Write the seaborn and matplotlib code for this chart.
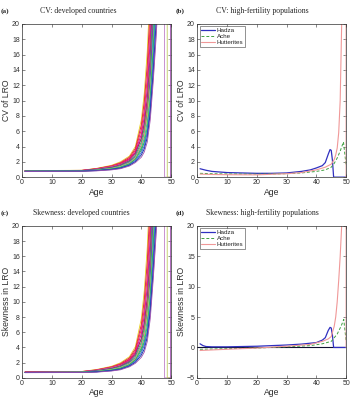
import seaborn as sns
import matplotlib.pyplot as plt
import numpy as np
import pandas as pd

# --- datos: países desarrollados (filas = país, columnas = edades) ---
ages_dev = [1, 20, 25, 30, 33, 36, 38, 40, 41, 42, 43, 44, 45, 46, 47, 47.8, 48.7, 49.8]
BIG = 999

cv_dev = [
    [0.85, 0.90, 1.15, 1.55, 2.00, 2.75, 4.00, 7.5, 11.0, 16.5, 25.0, 38.0, 55.0, 80, BIG, BIG, BIG, BIG],
    [0.84, 0.89, 1.12, 1.48, 1.89, 2.60, 3.74, 6.8, 9.9, 14.7, 22.4, 34.0, 50.0, 72, BIG, BIG, BIG, BIG],
    [0.83, 0.88, 1.08, 1.45, 1.85, 2.40, 3.20, 5.0, 6.9, 9.8, 14.5, 21.5, 31.0, 45, BIG, BIG, BIG, BIG],
    [0.83, 0.87, 1.08, 1.41, 1.79, 2.45, 3.50, 6.2, 8.8, 13.0, 20.1, 31.0, 45.0, 65, BIG, BIG, BIG, BIG],
    [0.82, 0.86, 1.05, 1.35, 1.70, 2.31, 3.27, 5.6, 7.9, 11.6, 18.0, 28.0, 41.0, 59, BIG, BIG, BIG, BIG],
    [0.80, 0.86, 1.05, 1.35, 1.65, 2.10, 2.60, 3.6, 4.5, 6.0, 8.6, 13.0, 19.0, 27, BIG, 0, 0, 0],
    [0.81, 0.85, 1.02, 1.29, 1.61, 2.18, 3.05, 5.1, 7.1, 10.3, 16.1, 25.3, 37.0, 53, BIG, BIG, BIG, BIG],
    [0.80, 0.84, 0.99, 1.24, 1.52, 2.06, 2.85, 4.6, 6.4, 9.2, 14.5, 22.9, 33.5, 48, BIG, BIG, BIG, BIG],
    [0.78, 0.80, 0.88, 1.05, 1.25, 1.70, 2.40, 3.9, 5.8, 8.8, 13.5, 20.5, 31.0, 45, BIG, BIG, BIG, BIG],
    [0.79, 0.83, 0.96, 1.18, 1.44, 1.94, 2.66, 4.2, 5.7, 8.2, 13.0, 20.7, 30.4, 43, BIG, BIG, BIG, BIG],
    [0.78, 0.81, 0.93, 1.13, 1.37, 1.83, 2.49, 3.8, 5.1, 7.3, 11.6, 18.7, 27.5, 39, BIG, BIG, BIG, BIG],
    [0.79, 0.82, 0.92, 1.15, 1.40, 1.85, 2.55, 4.1, 5.5, 7.8, 11.5, 17.0, 25.0, 36, BIG, BIG, 0, 0],
    [0.78, 0.80, 0.90, 1.08, 1.30, 1.73, 2.33, 3.5, 4.6, 6.5, 10.4, 16.9, 24.9, 35, BIG, BIG, BIG, BIG],
    [0.77, 0.79, 0.87, 1.04, 1.23, 1.63, 2.18, 3.2, 4.1, 5.8, 9.3, 15.3, 22.6, 32, BIG, BIG, BIG, BIG],
    [0.76, 0.78, 0.85, 0.99, 1.16, 1.54, 2.03, 2.9, 3.7, 5.2, 8.4, 13.8, 20.4, 29, BIG, BIG, BIG, BIG],
    [0.75, 0.77, 0.82, 0.95, 1.10, 1.45, 1.90, 2.6, 3.3, 4.6, 7.5, 12.5, 18.5, 26, BIG, BIG, BIG, 0],
]

skew_dev = [
    [0.78, 0.84, 1.10, 1.52, 1.98, 2.78, 4.10, 7.8, 11.5, 17.2, 26.0, 39.0, 57.0, 82, BIG, BIG, BIG, BIG],
    [0.77, 0.83, 1.06, 1.45, 1.87, 2.62, 3.80, 7.0, 10.3, 15.3, 23.2, 35.0, 51.0, 74, BIG, BIG, BIG, BIG],
    [0.76, 0.82, 1.02, 1.41, 1.82, 2.40, 3.25, 5.1, 7.1, 10.1, 15.0, 22.2, 32.0, 46, BIG, BIG, BIG, BIG],
    [0.76, 0.81, 1.01, 1.37, 1.76, 2.46, 3.55, 6.4, 9.1, 13.5, 20.8, 32.0, 46.0, 66, BIG, BIG, BIG, BIG],
    [0.75, 0.80, 0.98, 1.31, 1.67, 2.32, 3.30, 5.8, 8.2, 12.0, 18.6, 29.0, 42.0, 60, BIG, BIG, BIG, BIG],
    [0.73, 0.80, 0.99, 1.32, 1.63, 2.10, 2.62, 3.7, 4.6, 6.2, 8.9, 13.4, 19.5, 28, BIG, 0, 0, 0],
    [0.74, 0.78, 0.95, 1.25, 1.58, 2.19, 3.08, 5.2, 7.3, 10.6, 16.6, 26.0, 38.0, 54, BIG, BIG, BIG, BIG],
    [0.73, 0.77, 0.92, 1.20, 1.49, 2.07, 2.88, 4.7, 6.6, 9.5, 15.0, 23.6, 34.5, 49, BIG, BIG, BIG, BIG],
    [0.71, 0.73, 0.81, 1.00, 1.21, 1.70, 2.42, 4.0, 6.0, 9.1, 14.0, 21.2, 32.0, 46, BIG, BIG, BIG, BIG],
    [0.72, 0.76, 0.89, 1.14, 1.41, 1.94, 2.68, 4.3, 5.9, 8.5, 13.4, 21.3, 31.3, 44, BIG, BIG, BIG, BIG],
    [0.71, 0.74, 0.86, 1.09, 1.34, 1.83, 2.51, 3.9, 5.3, 7.6, 12.0, 19.3, 28.3, 40, BIG, BIG, BIG, BIG],
    [0.72, 0.75, 0.86, 1.11, 1.37, 1.85, 2.57, 4.2, 5.7, 8.1, 11.9, 17.6, 25.8, 37, BIG, BIG, 0, 0],
    [0.71, 0.73, 0.83, 1.04, 1.27, 1.73, 2.35, 3.6, 4.8, 6.8, 10.8, 17.5, 25.7, 36, BIG, BIG, BIG, BIG],
    [0.70, 0.72, 0.80, 0.99, 1.19, 1.63, 2.20, 3.3, 4.3, 6.0, 9.6, 15.8, 23.3, 33, BIG, BIG, BIG, BIG],
    [0.69, 0.71, 0.78, 0.94, 1.12, 1.54, 2.05, 3.0, 3.8, 5.4, 8.7, 14.3, 21.0, 30, BIG, BIG, BIG, BIG],
    [0.68, 0.70, 0.75, 0.90, 1.06, 1.45, 1.92, 2.7, 3.4, 4.8, 7.8, 13.0, 19.1, 27, BIG, BIG, BIG, 0],
]

dev_colors = ["#e8d020", "#d01040", "#e04080", "#ff2020", "#c000a0", "#c080c8",
              "#b01060", "#20a060", "#f0a020", "#8020c0", "#00b0b0", "#c0cc60",
              "#20c040", "#3050e0", "#0030a0", "#a050b0"]

# --- datos: poblaciones de alta fecundidad ---
hadza_cv_age = [1, 3, 5, 10, 15, 20, 25, 30, 35, 38, 40, 42, 43, 44, 44.6, 45, 45.4, 45.8, 50]
hadza_cv = [1.1, 0.9, 0.75, 0.6, 0.55, 0.5, 0.5, 0.55, 0.75, 0.95, 1.2, 1.5, 1.9, 3.0, 3.6, 3.5, 2.2, 0, 0]
ache_cv_age = [1, 5, 10, 20, 30, 35, 40, 43, 45, 46, 47, 48, 49.1, 50]
ache_cv = [0.5, 0.45, 0.42, 0.4, 0.45, 0.55, 0.75, 0.95, 1.3, 1.8, 2.5, 3.4, 4.6, 1.5]
hutt_cv_age = [1, 5, 10, 20, 30, 35, 40, 43, 45, 46, 46.5, 47, 47.5, 48, 48.5, 49, 49.9, 50]
hutt_cv = [0.4, 0.35, 0.32, 0.3, 0.45, 0.6, 0.95, 1.3, 1.7, 2.3, 2.9, 3.8, 5.8, 10, 20, 60, BIG, 0]

hadza_sk_age = [1, 2, 3, 5, 10, 20, 30, 35, 40, 42, 43, 44, 44.6, 45, 45.4, 45.8, 50]
hadza_sk = [0.6, 0.3, 0.15, 0.1, 0.1, 0.2, 0.4, 0.55, 0.8, 1.2, 1.6, 2.8, 3.3, 3.2, 2.0, 0, 0]
ache_sk_age = [1, 10, 20, 30, 38, 42, 45, 47, 48.3, 49.2, 50]
ache_sk = [-0.3, -0.2, -0.1, 0.1, 0.3, 0.6, 1.0, 2.2, 3.5, 4.6, 1.0]
hutt_sk_age = [1, 10, 20, 30, 38, 42, 44, 45, 46, 46.5, 47, 47.5, 48, 48.5, 49, 49.9, 50]
hutt_sk = [-0.5, -0.3, -0.1, 0.2, 0.5, 1.0, 1.4, 1.8, 3.5, 5, 7.5, 11, 15, 20, 60, BIG, 0]

sns.set_theme(style="white")
plt.rcParams["font.family"] = ["Liberation Sans", "DejaVu Sans"]

fig = plt.figure(figsize=(3.5, 3.99), dpi=100)
pos = {"a": [0.063, 0.556, 0.426, 0.384], "b": [0.563, 0.556, 0.426, 0.384],
       "c": [0.063, 0.053, 0.426, 0.381], "d": [0.563, 0.053, 0.426, 0.381]}
axes = {k: fig.add_axes(v) for k, v in pos.items()}


def dev_panel(ax, table, ylabel):
    rows = []
    for i, vals in enumerate(table):
        for a, v in zip(ages_dev, vals):
            rows.append({"age": a, "val": v, "country": i})
    df = pd.DataFrame(rows)
    sns.lineplot(data=df, x="age", y="val", hue="country", palette=dev_colors[:len(table)],
                 legend=False, linewidth=0.6, ax=ax, estimator=None)
    ax.set_ylim(0, 20)
    ax.set_yticks(np.arange(0, 21, 2))
    ax.set_ylabel(ylabel)


def hf_panel(ax, data, ylim, yticks, ylabel):
    (h_a, h_v), (a_a, a_v), (t_a, t_v) = data
    sns.lineplot(x=h_a, y=h_v, color="#3030c0", linewidth=0.9, label="Hadza", ax=ax, estimator=None)
    sns.lineplot(x=a_a, y=a_v, color="#40a040", linewidth=0.7, linestyle=(0, (3, 2)),
                 label="Ache", ax=ax, estimator=None)
    sns.lineplot(x=t_a, y=t_v, color="#f09898", linewidth=0.8, label="Hutterites", ax=ax, estimator=None)
    ax.set_ylim(*ylim)
    ax.set_yticks(yticks)
    ax.set_ylabel(ylabel)
    leg = ax.legend(loc="upper left", fontsize=4.5, frameon=True, fancybox=False,
                    handlelength=2.2, borderpad=0.25, labelspacing=0.1, handletextpad=0.3,
                    borderaxespad=0.4)
    leg.get_frame().set_edgecolor("#404040")
    leg.get_frame().set_linewidth(0.5)


dev_panel(axes["a"], cv_dev, "CV of LRO")
dev_panel(axes["c"], skew_dev, "Skewness in LRO")
hf_panel(axes["b"], [(hadza_cv_age, hadza_cv), (ache_cv_age, ache_cv), (hutt_cv_age, hutt_cv)],
         (0, 20), np.arange(0, 21, 2), "CV of LRO")
axes["d"].axhline(0, color="#101030", linewidth=0.8)
hf_panel(axes["d"], [(hadza_sk_age, hadza_sk), (ache_sk_age, ache_sk), (hutt_sk_age, hutt_sk)],
         (-5, 20), np.arange(-5, 21, 5), "Skewness in LRO")

for ax in axes.values():
    ax.set_xlim(0, 50)
    ax.set_xticks(np.arange(0, 51, 10))
    ax.set_xlabel("Age", fontsize=6.2, labelpad=1, color="#303030")
    ax.yaxis.label.set_fontsize(6.2)
    ax.yaxis.label.set_color("#303030")
    ax.yaxis.labelpad = 1
    ax.tick_params(direction="in", length=2, width=0.4, labelsize=5, colors="#303030",
                   pad=1.5, top=True, right=True, bottom=True, left=True)
    for s in ax.spines.values():
        s.set_linewidth(0.5)
        s.set_color("#303030")

titles = {"a": ("(a)", "CV: developed countries", 0.003, 0.225, 0.972),
          "b": ("(b)", "CV: high-fertility populations", 0.503, 0.75, 0.972),
          "c": ("(c)", "Skewness: developed countries", 0.003, 0.233, 0.467),
          "d": ("(d)", "Skewness: high-fertility populations", 0.503, 0.75, 0.467)}
for lab, title, lx, tx, ty in titles.values():
    fig.text(lx, ty, lab, fontsize=5.2, fontweight="bold", family="Liberation Serif", va="center")
    fig.text(tx, ty, title, fontsize=5.6, family="Liberation Serif", va="center", ha="center")

fig.savefig("out.png", dpi=100)
